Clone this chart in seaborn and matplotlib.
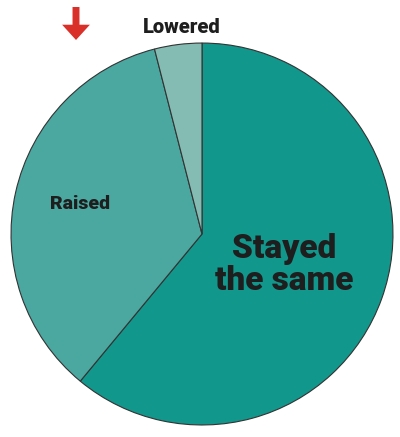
import matplotlib
matplotlib.use('Agg')
import matplotlib.pyplot as plt
import seaborn as sns

# --- data ---
categories = ['Stayed the same', 'Raised', 'Lowered']
shares = [61, 35, 4]
slice_colors = ['#12978c', '#4aa8a1', '#84bcb3']

sns.set_theme(style='white')
plt.rcParams['font.family'] = ['Roboto', 'DejaVu Sans']

fig = plt.figure(figsize=(4.0, 4.37), dpi=100)
ax = fig.add_axes([0.0275, 0.0275, 0.955, 0.874])

ax.pie(shares, colors=slice_colors, startangle=90, counterclock=False,
       radius=1.0, wedgeprops=dict(edgecolor='#333333', linewidth=0.8))
ax.set_xlim(-1, 1)
ax.set_ylim(-1, 1)
ax.set_aspect('equal')
ax.axis('off')

txt = dict(fontweight='black', color='#1e1e1e', ha='center', va='center')
ax.text(0.43, -0.16, 'Stayed\nthe same', fontsize=24, linespacing=1.0, **txt)
ax.text(-0.64, 0.157, 'Raised', fontsize=14, **txt)
ax.text(-0.105, 1.084, 'Lowered', fontsize=14.5, clip_on=False, **txt)

# red "down" arrow at the top left
ax.annotate('', xy=(76, 397), xytext=(76, 430), xycoords='figure pixels',
            textcoords='figure pixels',
            arrowprops=dict(facecolor='#d9302a', edgecolor='none', width=5,
                            headwidth=20, headlength=11, shrink=0))

fig.savefig('out.png', dpi=100)
